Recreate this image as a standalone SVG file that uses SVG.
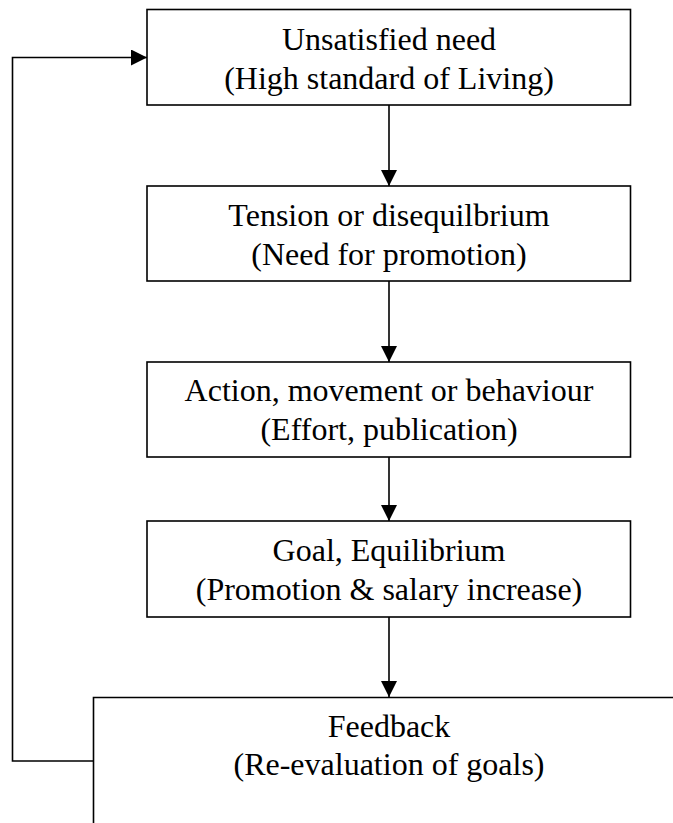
<svg xmlns="http://www.w3.org/2000/svg" width="673" height="823" viewBox="0 0 673 823">
  <defs>
    <marker id="arrow" markerWidth="16" markerHeight="16" refX="16" refY="8" orient="auto" markerUnits="userSpaceOnUse">
      <path d="M0,0 L16,8 L0,16 Z" fill="#000"/>
    </marker>
    <style>
      .box { fill: #fff; stroke: #000; stroke-width: 1.6; }
      .label { font-family: "Liberation Serif", "Times New Roman", serif; font-size: 32px; fill: #000; text-anchor: middle; }
      .conn { fill: none; stroke: #000; stroke-width: 1.6; }
    </style>
  </defs>

  <rect width="673" height="823" fill="#fff"/>

  <g id="connectors">
    <line class="conn" x1="389" y1="105" x2="389" y2="186" marker-end="url(#arrow)"/>
    <line class="conn" x1="389" y1="281" x2="389" y2="362" marker-end="url(#arrow)"/>
    <line class="conn" x1="389" y1="457" x2="389" y2="521" marker-end="url(#arrow)"/>
    <line class="conn" x1="389" y1="617" x2="389" y2="697" marker-end="url(#arrow)"/>
    <polyline class="conn" points="93.5,761 12.5,761 12.5,57.5 147,57.5" marker-end="url(#arrow)"/>
  </g>

  <g id="unsatisfied-need">
    <rect class="box" x="147" y="9.5" width="483.5" height="95.5"/>
    <text class="label" x="389" y="50">Unsatisfied need</text>
    <text class="label" x="389" y="89">(High standard of Living)</text>
  </g>

  <g id="tension">
    <rect class="box" x="147" y="186" width="483.5" height="95"/>
    <text class="label" x="389" y="226">Tension or disequilbrium</text>
    <text class="label" x="389" y="265">(Need for promotion)</text>
  </g>

  <g id="action">
    <rect class="box" x="147" y="362" width="483.5" height="95"/>
    <text class="label" x="389" y="401">Action, movement or behaviour</text>
    <text class="label" x="389" y="440">(Effort, publication)</text>
  </g>

  <g id="goal">
    <rect class="box" x="147" y="521" width="483.5" height="96"/>
    <text class="label" x="389" y="561">Goal, Equilibrium</text>
    <text class="label" x="389" y="600">(Promotion &amp; salary increase)</text>
  </g>

  <g id="feedback">
    <!-- open-ended box: its right and bottom sides run past the page edge -->
    <path class="conn" d="M675,697.5 H93.5 V825"/>
    <text class="label" x="389" y="737">Feedback</text>
    <text class="label" x="389" y="775">(Re-evaluation of goals)</text>
  </g>
</svg>
